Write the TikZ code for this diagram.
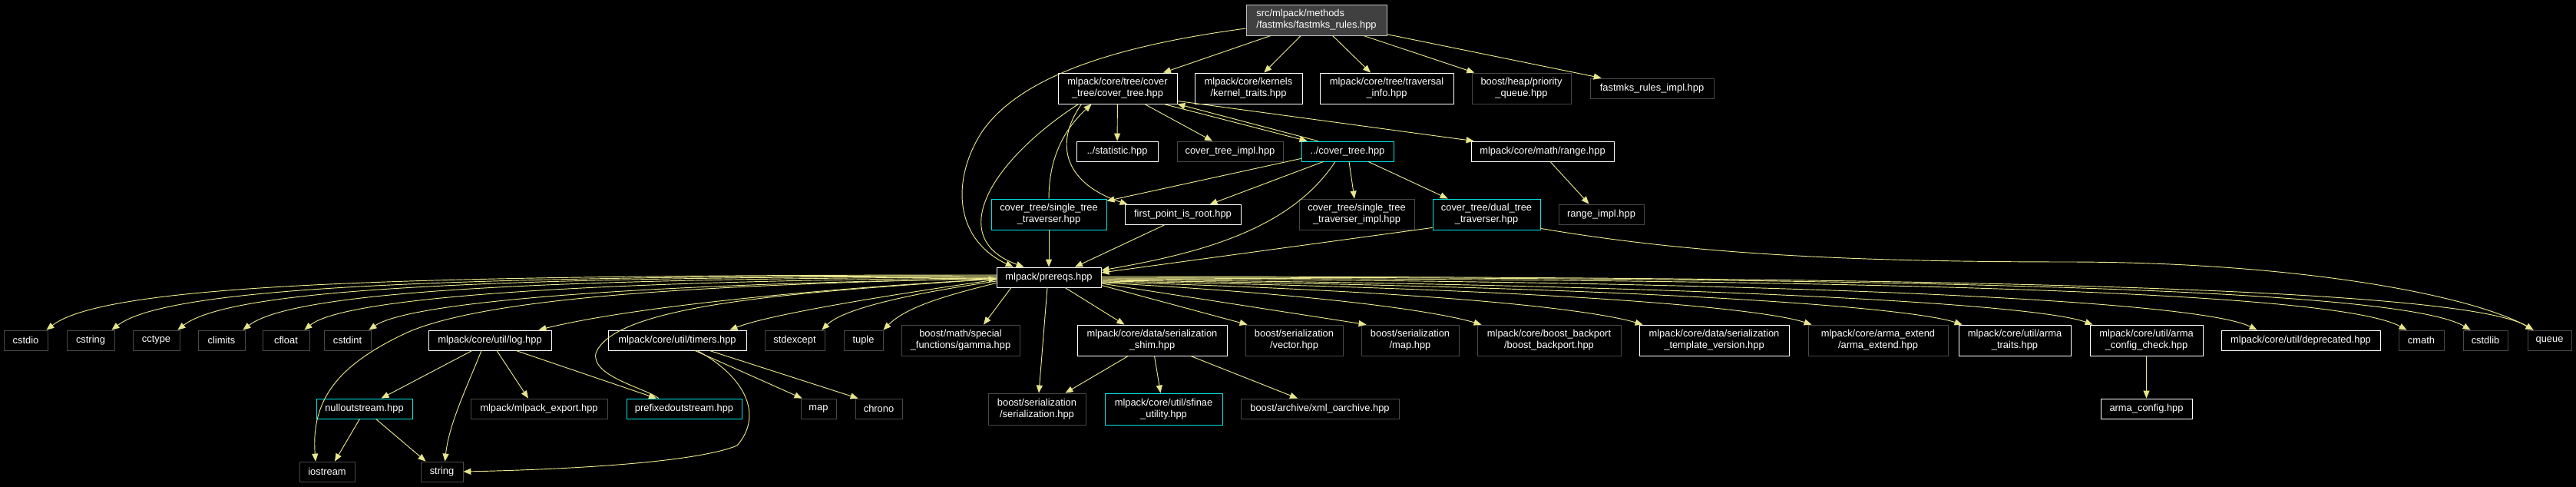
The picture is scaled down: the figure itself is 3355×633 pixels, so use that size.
\documentclass[tikz,border=0pt]{standalone}
\usepackage{fontspec}
\setmainfont{Liberation Sans}
\usetikzlibrary{arrows.meta,calc}
\definecolor{edgec}{RGB}{232,230,140}
\definecolor{gbord}{RGB}{72,72,72}
\definecolor{rootfill}{RGB}{64,64,64}
\definecolor{rootbord}{RGB}{191,191,191}
\definecolor{cbord}{RGB}{0,230,230}
\begin{document}
\begin{tikzpicture}[x=0.3mm,y=0.3mm,
  nd/.style={draw, fill=black, text=white, line width=0.7pt, inner sep=0pt, align=center, font=\fontsize{11}{12.8}\selectfont},
  wn/.style={nd, draw=white},
  gn/.style={nd, draw=gbord},
  cn/.style={nd, draw=cbord},
  rn/.style={nd, fill=rootfill, draw=rootbord, align=left},
  sz/.style 2 args={minimum width=#1*0.3mm, minimum height=#2*0.3mm},
  ed/.style={draw=edgec, line width=0.8pt, -{Triangle[length=3mm,width=2.4mm]}},
]
\useasboundingbox (0,0) rectangle (3355,-633);
\fill[black, overlay] (-20,20) rectangle (3375,-653);

% row 0
\node[rn, sz={183}{40}] (root) at (1714.5,-26) {src/mlpack/methods\\/fastmks/fastmks\_rules.hpp};
% row 1
\node[wn, sz={155}{40}] (ct) at (1455.5,-115) {mlpack/core/tree/cover\\\_tree/cover\_tree.hpp};
\node[wn, sz={140}{40}] (kt) at (1626,-115) {mlpack/core/kernels\\/kernel\_traits.hpp};
\node[wn, sz={174}{40}] (ti) at (1806,-115) {mlpack/core/tree/traversal\\\_info.hpp};
\node[gn, sz={129}{40}] (pq) at (1981.5,-115) {boost/heap/priority\\\_queue.hpp};
\node[gn, sz={161}{26}] (fri) at (2151.5,-115) {fastmks\_rules\_impl.hpp};
% row 2
\node[wn, sz={106}{26}] (stat) at (1455,-197) {../statistic.hpp};
\node[gn, sz={138}{26}] (cti) at (1602,-197) {cover\_tree\_impl.hpp};
\node[cn, sz={120}{26}] (dct) at (1755,-197) {../cover\_tree.hpp};
\node[wn, sz={186}{26}] (range) at (2009,-197) {mlpack/core/math/range.hpp};
% row 3
\node[cn, sz={150}{40}] (stt) at (1366,-279) {cover\_tree/single\_tree\\\_traverser.hpp};
\node[wn, sz={151}{26}] (fpr) at (1540.5,-279.5) {first\_point\_is\_root.hpp};
\node[gn, sz={150}{40}] (stti) at (1767,-279) {cover\_tree/single\_tree\\\_traverser\_impl.hpp};
\node[cn, sz={140}{40}] (dtt) at (1936,-279) {cover\_tree/dual\_tree\\\_traverser.hpp};
\node[gn, sz={111}{26}] (ri) at (2085.5,-279) {range\_impl.hpp};
% prereqs
\node[wn, sz={136}{26}] (pre) at (1366,-361) {mlpack/prereqs.hpp};
% row 4
\node[gn, sz={57}{26}] (cstdio) at (33.5,-443) {cstdio};
\node[gn, sz={62}{26}] (cstring) at (118,-443) {cstring};
\node[gn, sz={61}{26}] (cctype) at (203.5,-443) {cctype};
\node[gn, sz={61}{26}] (climits) at (288.5,-443) {climits};
\node[gn, sz={61}{26}] (cfloat) at (372.5,-443) {cfloat};
\node[gn, sz={61}{26}] (cstdint) at (452.5,-443) {cstdint};
\node[wn, sz={160}{26}] (log) at (638,-443) {mlpack/core/util/log.hpp};
\node[wn, sz={180}{26}] (timers) at (882,-443) {mlpack/core/util/timers.hpp};
\node[gn, sz={78}{26}] (stdexcept) at (1035,-443) {stdexcept};
\node[gn, sz={51}{26}] (tuple) at (1124.5,-443) {tuple};
\node[gn, sz={154}{40}] (gamma) at (1251,-443) {boost/math/special\\\_functions/gamma.hpp};
\node[wn, sz={195}{40}] (shim) at (1500.5,-443) {mlpack/core/data/serialization\\\_shim.hpp};
\node[gn, sz={127}{40}] (vec) at (1685.5,-443) {boost/serialization\\/vector.hpp};
\node[gn, sz={127}{40}] (smap) at (1836.5,-443) {boost/serialization\\/map.hpp};
\node[gn, sz={187}{40}] (bb) at (2017.5,-443) {mlpack/core/boost\_backport\\/boost\_backport.hpp};
\node[wn, sz={195}{40}] (tv) at (2232.5,-443) {mlpack/core/data/serialization\\\_template\_version.hpp};
\node[gn, sz={182}{40}] (ae) at (2446,-443) {mlpack/core/arma\_extend\\/arma\_extend.hpp};
\node[wn, sz={146}{40}] (atr) at (2624,-443) {mlpack/core/util/arma\\\_traits.hpp};
\node[wn, sz={147}{40}] (acc) at (2795.5,-443) {mlpack/core/util/arma\\\_config\_check.hpp};
\node[wn, sz={207}{26}] (dep) at (2996.5,-443) {mlpack/core/util/deprecated.hpp};
\node[gn, sz={59}{26}] (cmath) at (3153.5,-443) {cmath};
\node[gn, sz={58}{26}] (cstdlib) at (3237,-443) {cstdlib};
\node[gn, sz={57}{26}] (queue) at (3320.5,-443) {queue};
% row 5
\node[cn, sz={125}{26}] (nos) at (474.5,-532) {nulloutstream.hpp};
\node[gn, sz={178}{26}] (mexp) at (702,-532) {mlpack/mlpack\_export.hpp};
\node[cn, sz={150}{26}] (pos) at (891,-532) {prefixedoutstream.hpp};
\node[gn, sz={46}{26}] (map) at (1066,-532) {map};
\node[gn, sz={61}{26}] (chrono) at (1144.5,-532) {chrono};
\node[gn, sz={127}{41}] (ser) at (1350.5,-532.5) {boost/serialization\\/serialization.hpp};
\node[cn, sz={153}{41}] (sfu) at (1515.5,-532.5) {mlpack/core/util/sfinae\\\_utility.hpp};
\node[gn, sz={206}{26}] (xml) at (1719,-532) {boost/archive/xml\_oarchive.hpp};
\node[wn, sz={119}{26}] (ac) at (2795.5,-532) {arma\_config.hpp};
% row 6
\node[gn, sz={72}{26}] (ios) at (426,-614) {iostream};
\node[gn, sz={55}{26}] (str) at (575.5,-614) {string};

% edges from root
\draw[ed] (root) -- (ct);
\draw[ed] (root) -- (kt);
\draw[ed] (root) -- (ti);
\draw[ed] (root) -- (pq);
\draw[ed] (root) -- (fri);
\draw[ed] ($(root.west)+(0,-11)$) .. controls (1450,-60) and (1330,-100) .. (1280,-170)
  .. controls (1240,-230) and (1240,-310) .. ($(pre.north west)+(22,0)$);

% cover tree
\draw[ed] (ct) -- (stat);
\draw[ed] ($(ct.south)+(35,0)$) -- ($(cti.north)+(-23,0)$);
\draw[ed] ($(ct.south east)+(-18,0)$) -- ($(dct.north west)+(8,0)$);
\draw[ed] ($(dct.north west)+(22,0)$) -- (ct.south east);
\draw[ed] ($(ct.south east)+(0,4)$) -- ($(range.north west)+(4,0)$);
\draw[ed] ($(ct.south west)+(31,0)$) .. controls (1370,-190) and (1390,-240) .. ($(fpr.north west)+(4,0)$);
\draw[ed] ($(ct.south west)+(27,0)$) .. controls (1290,-210) and (1230,-310) .. ($(pre.north west)+(36,0)$);

% ../cover_tree
\draw[ed] ($(dct.south west)+(0,4)$) -- ($(stt.north east)+(0,-3)$);
\draw[ed] ($(dct.south west)+(29,0)$) -- ($(fpr.north)+(35,0)$);
\draw[ed] ($(dct.south)+(2,0)$) -- ($(stti.north)+(-3,0)$);
\draw[ed] ($(dct.south)+(27,0)$) -- ($(dtt.north west)+(20,0)$);
\draw[ed] ($(dct.south)+(-16,0)$) .. controls (1680,-300) and (1560,-330) .. ($(pre.east)+(0,9)$);

% row 3
\draw[ed] (stt) -- (pre);
\draw[ed] (stt.north) .. controls (1366,-200) and (1390,-165) .. ($(ct.south west)+(44,0)$);
\draw[ed] ($(fpr.south)+(-24,0)$) -- ($(pre.north)+(34,0)$);
\draw[ed] ($(dtt.south west)+(0,3)$) -- ($(pre.east)+(0,6)$);
\draw[ed] ($(dtt.south east)+(0,2)$) .. controls (2200,-330) and (2400,-341) .. (2700,-341)
  .. controls (3000,-342) and (3220,-385) .. ($(queue.north west)+(8,0)$);
\draw[ed] ($(range.south)+(10,0)$) -- ($(ri.north)+(-16,0)$);

% prereqs to the left
\draw[ed] ($(pre.west)+(0,3)$) .. controls (550,-358) and (140,-368) .. ($(cstdio.north east)+(-2,0)$);
\draw[ed] ($(pre.west)+(0,2)$) .. controls (600,-359) and (220,-372) .. ($(cstring.north east)+(-4,0)$);
\draw[ed] ($(pre.west)+(0,1)$) .. controls (650,-360) and (300,-375) .. ($(cctype.north east)+(-3,0)$);
\draw[ed] (pre.west) .. controls (700,-362) and (380,-380) .. ($(climits.north east)+(-3,0)$);
\draw[ed] ($(pre.west)+(0,-1)$) .. controls (800,-365) and (450,-385) .. ($(cfloat.north east)+(-7,0)$);
\draw[ed] ($(pre.west)+(0,-2)$) .. controls (800,-370) and (530,-395) .. ($(cstdint.north east)+(-3,0)$);
\draw[ed] ($(pre.west)+(0,-2)$) .. controls (1000,-380) and (800,-405) .. ($(log.north east)+(-17,0)$);
\draw[ed] ($(pre.west)+(0,-1)$) .. controls (1000,-370) and (650,-380) .. (530,-433)
  .. controls (440,-475) and (405,-520) .. ($(ios.north)+(-15,0)$);
\draw[ed] ($(pos.north)+(-33,0)$) .. controls (840,-505) and (770,-490) .. (776,-460)
  .. controls (800,-395) and (1050,-380) .. ($(pre.west)+(0,-2)$);
\draw[ed] ($(pre.west)+(0,-3)$) .. controls (1150,-385) and (1000,-410) .. ($(timers.north east)+(-22,0)$);
\draw[ed] ($(pre.west)+(0,-5)$) .. controls (1200,-380) and (1100,-400) .. ($(stdexcept.north east)+(-4,0)$);
\draw[ed] ($(pre.south west)+(0,6)$) .. controls (1230,-385) and (1180,-400) .. (tuple.north east);
\draw[ed] ($(pre.south)+(-49,0)$) -- ($(gamma.north)+(30,0)$);
\draw[ed] ($(pre.south)+(-2,0)$) -- ($(ser.north)+(2.5,0)$);
\draw[ed] ($(pre.south)+(21,0)$) -- ($(shim.north)+(-36,0)$);

% prereqs to the right
\draw[ed] ($(pre.south east)+(0,3)$) -- ($(vec.north west)+(3,0)$);
\draw[ed] ($(pre.east)+(0,-8)$) -- ($(smap.north west)+(7,0)$);
\draw[ed] ($(pre.east)+(0,-7)$) .. controls (1750,-385) and (1880,-408) .. ($(bb.north west)+(6,0)$);
\draw[ed] ($(pre.east)+(0,-6)$) .. controls (1900,-380) and (2080,-405) .. ($(tv.north west)+(5,0)$);
\draw[ed] ($(pre.east)+(0,-5)$) .. controls (2000,-375) and (2290,-400) .. ($(ae.north west)+(5,0)$);
\draw[ed] ($(pre.east)+(0,-4)$) .. controls (2100,-372) and (2480,-398) .. ($(atr.north west)+(5,0)$);
\draw[ed] ($(pre.east)+(0,-3)$) .. controls (2200,-370) and (2650,-395) .. ($(acc.north west)+(4,0)$);
\draw[ed] ($(pre.east)+(0,-2)$) .. controls (2300,-365) and (2860,-390) .. ($(dep.north west)+(47,0)$);
\draw[ed] ($(pre.east)+(0,-1)$) .. controls (2400,-363) and (3040,-378) .. ($(cmath.north west)+(11,0)$);
\draw[ed] (pre.east) .. controls (2400,-361) and (3120,-372) .. ($(cstdlib.north west)+(10,0)$);
\draw[ed] ($(pre.east)+(0,1)$) .. controls (2400,-360) and (3200,-370) .. ($(queue.north west)+(8,0)$);

% lower part
\draw[ed] ($(log.south)+(-23,0)$) -- ($(nos.north)+(22,0)$);
\draw[ed] ($(log.south)+(-11,0)$) .. controls (610,-500) and (585,-550) .. ($(str.north)+(4,0)$);
\draw[ed] ($(log.south)+(9,0)$) -- ($(mexp.north)+(-14,0)$);
\draw[ed] ($(log.south)+(34,0)$) -- ($(pos.north)+(-36,0)$);
\draw[ed] ($(timers.south)+(23,0)$) -- ($(map.north west)+(2,0)$);
\draw[ed] ($(timers.south)+(42,0)$) -- ($(chrono.north west)+(4,0)$);
\draw[ed] ($(timers.south)+(26,0)$) .. controls (970,-490) and (995,-540) .. (960,-580)
  .. controls (900,-605) and (700,-612) .. (str.east);
\draw[ed] ($(nos.south)+(-6,0)$) -- ($(ios.north)+(10,0)$);
\draw[ed] ($(nos.south)+(15,0)$) -- ($(str.north)+(-21,0)$);
\draw[ed] ($(shim.south)+(-31,0)$) -- ($(ser.north)+(37,0)$);
\draw[ed] ($(shim.south)+(3,0)$) -- ($(sfu.north)+(-4,0)$);
\draw[ed] ($(shim.south)+(50,0)$) -- ($(xml.north)+(-29,0)$);
\draw[ed] (acc) -- (ac);
\end{tikzpicture}
\end{document}
